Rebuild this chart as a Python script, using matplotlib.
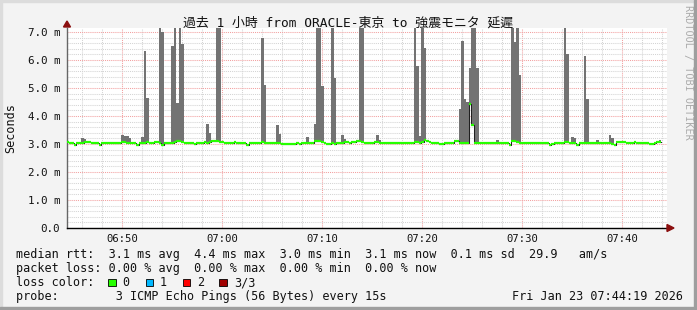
import matplotlib
matplotlib.use('Agg')
import matplotlib.pyplot as plt
from matplotlib.patches import Rectangle, Polygon
import numpy as np

# ---------------- data ----------------
step_min = 0.25            # 15 s steps, minutes
start_min = -0.1           # minutes after 06:44:30 of the first step
median_rtt = [
    3.06,3.05,3.04,2.97,3.03,3.05,3.05,3.06,3.08,3.07,3.05,3.05,3.04,2.98,3.02,3.05,3.05,3.05,3.04,3.05,
    3.05,3.05,3.06,3.06,3.05,3.05,3.04,3.05,2.98,3.04,3.05,3.05,3.06,3.05,3.05,3.07,3.08,3.05,2.98,3.04,
    3.03,3.02,3.04,3.06,3.10,3.12,3.07,3.05,3.05,3.04,3.05,3.01,3.04,3.05,3.05,3.06,3.05,3.07,3.10,3.12,
    3.10,3.08,3.06,3.05,3.05,3.04,3.05,3.06,3.05,3.05,3.04,3.05,2.98,3.03,3.05,3.05,3.04,3.05,3.06,3.05,
    3.05,3.04,3.03,3.03,3.04,3.02,3.01,3.00,3.00,2.99,3.01,3.00,3.02,3.01,3.03,3.04,3.04,3.05,3.05,3.10,
    3.11,3.10,3.06,3.03,3.00,2.99,3.02,3.01,3.04,3.05,3.05,3.06,3.07,3.05,3.06,3.08,3.10,3.11,3.08,3.05,
    3.04,3.05,3.05,3.06,3.07,3.05,3.04,3.05,3.05,3.03,3.05,3.05,3.02,3.04,3.05,3.05,3.05,3.04,3.05,3.06,
    3.06,3.05,3.08,3.15,3.12,3.06,3.04,3.03,3.02,3.00,3.01,3.03,3.02,3.03,3.05,3.12,3.10,3.05,3.04,3.05,
    3.05,4.42,3.68,3.05,3.04,3.03,3.05,3.05,3.03,3.02,3.03,3.04,3.04,3.03,3.03,3.03,3.02,2.98,3.10,3.12,
    3.08,3.05,3.05,3.04,3.05,3.05,3.04,3.04,3.04,3.03,3.05,3.04,3.02,2.98,3.01,3.03,3.03,3.04,3.05,3.07,
    3.07,3.05,3.04,3.02,2.98,3.03,3.04,3.05,3.05,3.05,3.04,3.05,3.05,3.05,3.05,3.05,3.04,3.03,3.00,2.97,
    3.08,3.08,3.08,3.07,3.05,3.04,3.05,3.06,3.05,3.03,3.02,3.04,3.02,3.00,3.01,3.03,3.07,3.06,
]
# smoke (max ping) where it rises above the median, ms; 9.0 = off the top of the chart
smoke_idx = [6, 7, 8, 22, 23, 24, 25, 30, 31, 32, 37, 38, 42, 43, 44, 45, 46, 56, 57, 60, 61,
             78, 79, 84, 85, 96, 99, 100, 101, 102, 106, 107, 110, 111, 117, 118, 124, 125,
             139, 140, 141, 142, 143, 157, 158, 159, 160, 161, 162, 163, 164, 172,
             178, 179, 180, 181, 199, 200, 202, 203, 207, 208, 212, 217, 218, 237]
smoke_max = [3.21, 3.18, 3.12, 3.33, 3.29, 3.29, 3.22, 3.25, 6.32, 4.63, 9.0, 7.00, 6.50, 9.0, 4.46, 9.0, 6.57, 3.71, 3.38, 9.0, 9.0,
             6.80, 5.10, 3.69, 3.37, 3.25, 3.71, 9.0, 9.0, 5.07, 9.0, 5.35, 3.32, 3.18, 9.0, 9.0, 3.33, 3.15,
             9.0, 5.79, 3.29, 9.0, 6.42, 4.24, 6.68, 4.61, 4.50, 5.71, 9.0, 9.0, 5.71, 3.14,
             9.0, 6.64, 9.0, 5.46, 9.0, 6.21, 3.24, 3.20, 6.14, 4.61, 3.15, 3.31, 3.20, 3.15]

y_ticks = [0, 1, 2, 3, 4, 5, 6, 7]
y_labels = ["0.0", "1.0 m", "2.0 m", "3.0 m", "4.0 m", "5.0 m", "6.0 m", "7.0 m"]
x_ticks = [5.5, 15.5, 25.5, 35.5, 45.5, 55.5]
x_labels = ["06:50", "07:00", "07:10", "07:20", "07:30", "07:40"]

title = "過去 1 小時 from ORACLE-東京 to 強震モニタ 延遲"
y_title = "Seconds"
legend_rows = [
    "median rtt:  3.1 ms avg  4.4 ms max  3.0 ms min  3.1 ms now  0.1 ms sd  29.9   am/s",
    "packet loss: 0.00 % avg  0.00 % max  0.00 % min  0.00 % now",
    "loss color:",
    "probe:        3 ICMP Echo Pings (56 Bytes) every 15s",
]
loss_labels = ["0", "1", "2", "3/3"]
loss_colors = ["#26ff00", "#00b8ff", "#ff0000", "#a10000"]
stamp = "Fri Jan 23 07:44:19 2026"
watermark = "RRDTOOL / TOBI OETIKER"

# ---------------- figure ----------------
W, H = 697, 310
fig = plt.figure(figsize=(W / 100, H / 100), dpi=100, facecolor="#f3f3f3")
def fx(px): return px / W
def fy(py): return 1 - py / H

MONO = "DejaVu Sans Mono"
GREEN = "#26ff00"

# frame shading
fig.patches.append(Rectangle((0, fy(2)), 1, 2 / H, transform=fig.transFigure, color="#dcdcdc", zorder=0))
fig.patches.append(Rectangle((0, 0), 2 / W, 1, transform=fig.transFigure, color="#dcdcdc", zorder=0))
fig.patches.append(Rectangle((0, 0), 1, 3 / H, transform=fig.transFigure, color="#9e9e9e", zorder=0))
fig.patches.append(Rectangle((fx(694), 0), 3 / W, 1, transform=fig.transFigure, color="#9e9e9e", zorder=0))

ax = fig.add_axes([fx(67), fy(228), (667 - 67) / W, (228 - 28) / H])
ax.set_facecolor("white")
ax.set_xlim(0, 60)
ax.set_ylim(0, 200 / 28)

# grid
ax.set_yticks(y_ticks)
ax.set_yticks(np.arange(0, 7.15, 0.2), minor=True)
ax.set_xticks(x_ticks)
ax.set_xticks(np.arange(1.5, 60, 2), minor=True)
ax.grid(which="minor", color="#d4d4d4", linestyle=(0, (1, 1)), linewidth=0.75, zorder=0)
ax.grid(which="major", color="#f2a0a0", linestyle=(0, (1, 1)), linewidth=0.75, zorder=0)
ax.set_axisbelow(True)

ax.set_yticklabels(y_labels, family=MONO, fontsize=7.8, color="#111111")
ax.set_xticklabels(x_labels, family=MONO, fontsize=7.6, color="#111111")
ax.tick_params(which="both", length=0)
ax.tick_params(axis="y", pad=5)
ax.tick_params(axis="x", pad=4.5)
for s in ("top", "right"):
    ax.spines[s].set_visible(False)
ax.spines["left"].set_color("#666666")
ax.spines["left"].set_linewidth(1.0)
ax.spines["bottom"].set_color("#000000")
ax.spines["bottom"].set_linewidth(1.0)

# smoke bars
med = np.array(median_rtt)
left_edges = start_min + step_min * np.arange(len(med))
sidx = np.array(smoke_idx)
smax = np.array(smoke_max)
ax.bar(left_edges[sidx], smax - med[sidx], bottom=med[sidx], width=step_min, align="edge",
       color="#737373", linewidth=0, zorder=2)

# black median line (only verticals remain visible) + green median strips
xs = np.append(left_edges, left_edges[-1] + step_min)
ys = np.append(med, med[-1])
ax.step(xs, ys, where="post", color="#202020", linewidth=0.75, zorder=3)
ax.hlines(med, left_edges, left_edges + step_min, color=GREEN, linewidth=1.6, zorder=4,
          capstyle="butt")

# y-axis title
fig.text(fx(11), fy(128), y_title, rotation=90, ha="center", va="center",
         family=MONO, fontsize=8.5, color="#111111")

# axis arrows
fig.patches.append(Polygon([(fx(63.5), fy(27)), (fx(70.5), fy(27)), (fx(67), fy(21))], closed=True,
                           transform=fig.transFigure, color="#8b0f0f", zorder=5))
fig.patches.append(Polygon([(fx(667), fy(224.5)), (fx(667), fy(231.5)), (fx(674), fy(228))], closed=True,
                           transform=fig.transFigure, color="#8b0f0f", zorder=5))

# title
fig.text(fx(348), fy(26.5), title, ha="center", va="baseline", fontsize=9.3,
         family=[MONO, "Noto Sans CJK JP"], color="#111111")

# watermark
fig.text(fx(688), fy(5), watermark, rotation=270, ha="center", va="top",
         fontsize=7.3, family=MONO, color="#ababab")

# legend
baselines = [258.3, 272.3, 286.3, 300.3]
for row, b in zip(legend_rows, baselines):
    fig.text(fx(16), fy(b), row, ha="left", va="baseline", fontsize=8.5, family=MONO, color="#111111")
box_x = [108.3, 145.7, 182.7, 219.3]
lab_x = [122.5, 160.0, 197.0, 234.3]
for bx, lx, lab, col in zip(box_x, lab_x, loss_labels, loss_colors):
    fig.patches.append(Rectangle((fx(bx), fy(286)), 7.5 / W, 7.5 / H, transform=fig.transFigure,
                                 facecolor=col, edgecolor="#000000", linewidth=0.6, zorder=5))
    fig.text(fx(lx), fy(286.3), lab, ha="left", va="baseline", fontsize=8.5, family=MONO, color="#111111")
fig.text(fx(512), fy(300.3), stamp, ha="left", va="baseline", fontsize=8.5, family=MONO, color="#111111")

fig.savefig("out.png", dpi=100, facecolor=fig.get_facecolor())
